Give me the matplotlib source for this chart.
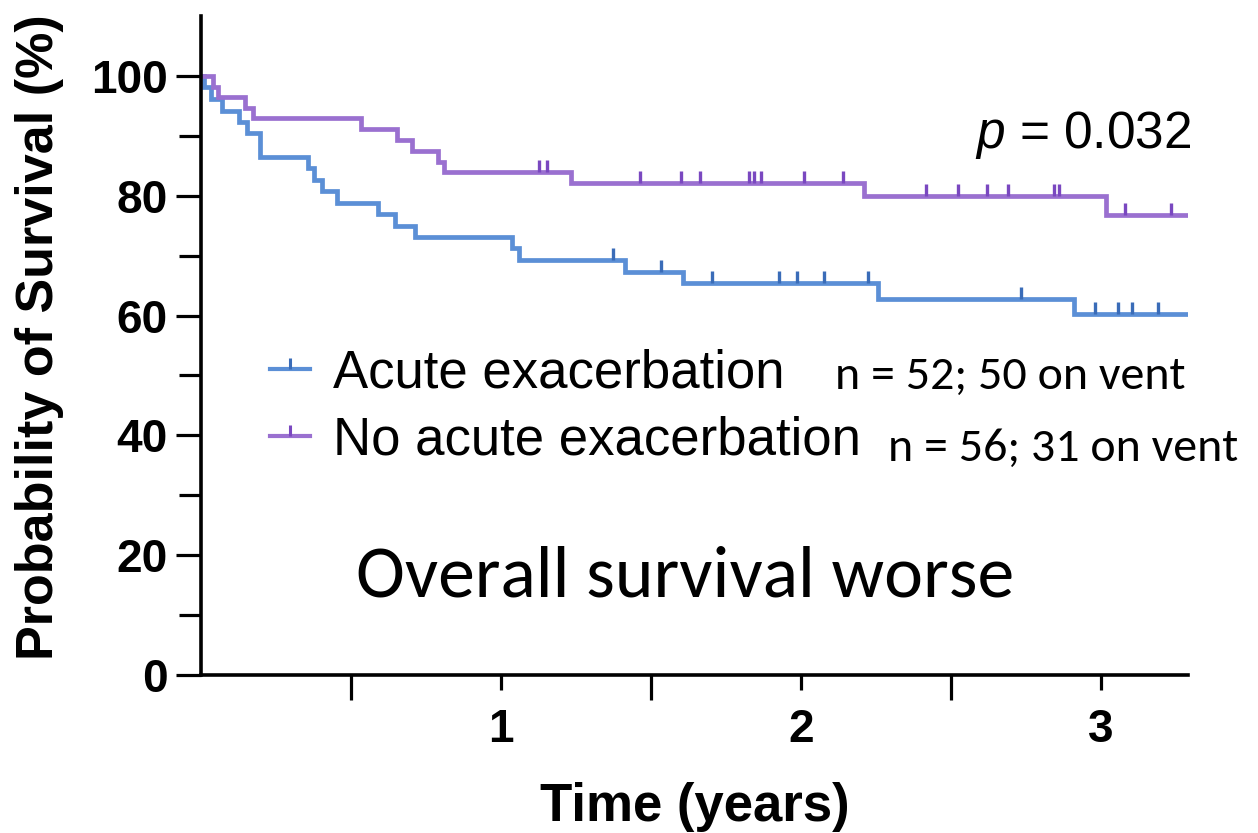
import numpy as np
import matplotlib.pyplot as plt
from matplotlib.path import Path

plt.rcParams['font.family'] = ['Liberation Sans', 'DejaVu Sans']
plt.rcParams['mathtext.fontset'] = 'custom'
plt.rcParams['mathtext.it'] = 'Liberation Sans:italic'
plt.rcParams['mathtext.rm'] = 'Liberation Sans'

# Kaplan-Meier steps (years, % surviving) and censored follow-up times
ae_times = [0, 0.01, 0.033, 0.069, 0.128, 0.153, 0.197, 0.356, 0.376, 0.402,
            0.452, 0.589, 0.647, 0.714, 1.036, 1.061, 1.413, 1.606, 2.258, 2.911]
ae_surv = [100, 98.1, 96.2, 94.2, 92.3, 90.4, 86.5, 84.6, 82.7, 80.8,
           78.8, 76.9, 75.0, 73.1, 71.2, 69.2, 67.3, 65.4, 62.8, 60.2]
ae_censored = [1.374, 1.533, 1.702, 1.926, 1.987, 2.076, 2.224, 2.733,
               2.98, 3.058, 3.102, 3.191]

noae_times = [0, 0.04, 0.055, 0.145, 0.172, 0.533, 0.653, 0.702, 0.789,
              0.811, 1.233, 2.211, 3.017]
noae_surv = [100, 98.2, 96.4, 94.6, 92.9, 91.1, 89.3, 87.5, 85.7,
             83.9, 82.1, 79.9, 76.8]
noae_censored = [1.126, 1.152, 1.464, 1.6, 1.663, 1.828, 1.844, 1.867, 2.009,
                 2.139, 2.417, 2.522, 2.619, 2.689, 2.844, 2.861, 3.08, 3.233]

followup_end = 3.29
labels = ['Acute exacerbation', 'No acute exacerbation']
counts = ['n = 52; 50 on vent', 'n = 56; 31 on vent']
p_value = '0.032'

line_colors = ['#5b8fd6', '#9a70d0']
tick_colors = ['#3a6cb8', '#7a48c0']

# censor mark: a short stroke that rises from the curve
up_tick = Path([(0, 0), (0, 1)], [Path.MOVETO, Path.LINETO])


def km_curve(ax, times, surv, censored, color, mcolor, label):
    t = np.append(times, followup_end)
    s = np.append(surv, surv[-1])
    ax.step(t, s, where='post', color=color, lw=3.4, solid_joinstyle='miter')
    idx = np.searchsorted(times, censored, side='right') - 1
    cs = np.array(surv)[idx]
    ax.plot(censored, cs, ls='none', marker=up_tick, ms=18, mew=2.4,
            color=mcolor)
    # proxy for the legend entry
    ax.plot([], [], color=color, lw=3.0, marker=up_tick, ms=16, mew=2.2,
            mec=mcolor, label=label)


fig = plt.figure(figsize=(12.58, 8.33), dpi=100)
ax = fig.add_axes([201 / 1258, 158 / 833, 987 / 1258, 659 / 833])

km_curve(ax, ae_times, ae_surv, ae_censored, line_colors[0], tick_colors[0], labels[0])
km_curve(ax, noae_times, noae_surv, noae_censored, line_colors[1], tick_colors[1], labels[1])

ax.set_xlim(0, followup_end)
ax.set_ylim(0, 110)
for side in ['top', 'right']:
    ax.spines[side].set_visible(False)
for side in ['left', 'bottom']:
    ax.spines[side].set_linewidth(2.6)

ax.set_yticks(np.arange(0, 101, 20))
ax.set_yticks(np.arange(10, 101, 20), minor=True)
ax.set_xticks([1, 2, 3])
ax.set_xticks([0.5, 1.5, 2.5], minor=True)
ax.tick_params(axis='y', which='major', length=18, width=2.3, pad=6, labelsize=33)
ax.tick_params(axis='y', which='minor', length=16, width=2.3)
ax.tick_params(axis='x', which='major', length=11, width=2.3, pad=13, labelsize=33)
ax.tick_params(axis='x', which='minor', length=18, width=2.3)
for lab in ax.get_xticklabels() + ax.get_yticklabels():
    lab.set_fontweight('bold')

ax.set_ylabel('Probability of Survival (%)', fontsize=37.5, fontweight='bold')
ax.yaxis.set_label_coords(-0.139, 0.513)
ax.set_xlabel('Time (years)', fontsize=38, fontweight='bold')
ax.xaxis.set_label_coords(0.5, -0.162)

ax.text(1.003, 0.82, '$p$ = ' + p_value, transform=ax.transAxes, fontsize=37,
        ha='right', va='center')

ax.legend(loc='upper left', bbox_to_anchor=(0.07, 0.495), frameon=False,
          fontsize=38, handlelength=0.75, handletextpad=0.45,
          labelspacing=0.32, borderpad=0, borderaxespad=0)

calibri = ['Carlito', 'Lato', 'DejaVu Sans']
fig.text(835 / 1258, 1 - 376 / 833, counts[0], fontsize=34.5, family=calibri,
         ha='left', va='center')
fig.text(888 / 1258, 1 - 448 / 833, counts[1], fontsize=34.5, family=calibri,
         ha='left', va='center')
fig.text(685 / 1258, 1 - 577 / 833, 'Overall survival worse', fontsize=53,
         family=calibri, ha='center', va='center')

fig.savefig('out.png', dpi=100)
